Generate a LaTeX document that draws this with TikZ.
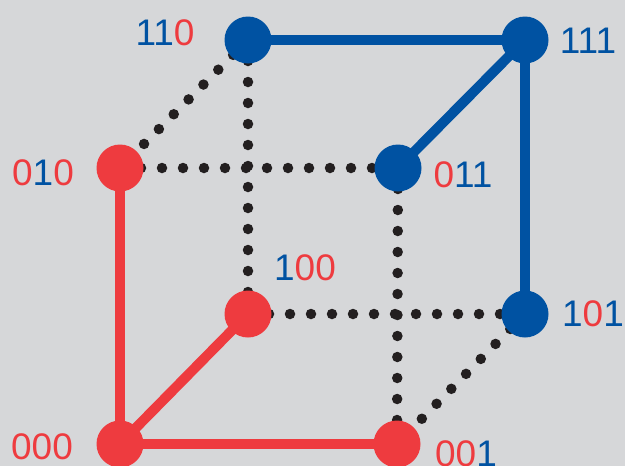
\documentclass[tikz,border=0pt]{standalone}
\usepackage{fontspec}
\setmainfont{Liberation Sans}
\definecolor{bg}{HTML}{D6D7D9}
\definecolor{cred}{HTML}{EE3B3F}
\definecolor{cblue}{HTML}{0052A2}
\definecolor{cdot}{HTML}{231F20}
\begin{document}
\begin{tikzpicture}[x=1pt,y=-1pt,
  vert/.style={circle,minimum size=47pt,inner sep=0pt,fill=#1},
  lbl/.style={inner sep=0pt,font=\fontsize{37}{37}\selectfont},
  solidedge/.style={line width=10pt,draw=#1},
  dotedge/.style={line width=10.5pt,draw=cdot,line cap=round,dash pattern=on 0pt off 21pt}]
\fill[bg] (0,0) rectangle (625,466);
\useasboundingbox (0,0) rectangle (625,466);
% vertex coordinates
\coordinate (p110) at (248,40);
\coordinate (p111) at (525,40);
\coordinate (p010) at (120,168);
\coordinate (p011) at (398,168);
\coordinate (p100) at (248,314);
\coordinate (p101) at (525,314);
\coordinate (p000) at (120,444);
\coordinate (p001) at (397,444);
% dotted edges
\draw[dotedge] (p110) -- (p010);
\draw[dotedge] (p110) -- (p100);
\draw[dotedge] (p010) -- (p011);
\draw[dotedge] (p011) -- (p001);
\draw[dotedge] (p100) -- (p101);
\draw[dotedge] (p101) -- (p001);
% solid edges
\draw[solidedge=cblue] (p110) -- (p111);
\draw[solidedge=cblue] (p111) -- (p011);
\draw[solidedge=cblue] (p111) -- (p101);
\draw[solidedge=cred] (p010) -- ([yshift=-27pt]p000);
\draw[solidedge=cred] (p000) -- (p100);
\draw[solidedge=cred] (p000) -- (p001);
% vertices
\node[vert=cblue] (n110) at (p110) {};
\node[vert=cblue] (n111) at (p111) {};
\node[vert=cred]  (n010) at (p010) {};
\node[vert=cblue] (n011) at (p011) {};
\node[vert=cred]  (n100) at (p100) {};
\node[vert=cblue] (n101) at (p101) {};
\node[vert=cred]  (n000) at (p000) {};
\node[vert=cred]  (n001) at (p001) {};
% labels
\node[lbl] (l110) at (165,33) {\textcolor{cblue}{11}\textcolor{cred}{0}};
\node[lbl] (l111) at (588,41) {\textcolor{cblue}{111}};
\node[lbl] (l010) at (43,173) {\textcolor{cred}{0}\textcolor{cblue}{1}\textcolor{cred}{0}};
\node[lbl] (l011) at (463,175) {\textcolor{cred}{0}\textcolor{cblue}{11}};
\node[lbl] (l100) at (305,268) {\textcolor{cblue}{1}\textcolor{cred}{00}};
\node[lbl] (l101) at (593,314) {\textcolor{cblue}{1}\textcolor{cred}{0}\textcolor{cblue}{1}};
\node[lbl] (l000) at (42,447) {\textcolor{cred}{000}};
\node[lbl] (l001) at (466,454) {\textcolor{cred}{00}\textcolor{cblue}{1}};
\end{tikzpicture}
\end{document}
